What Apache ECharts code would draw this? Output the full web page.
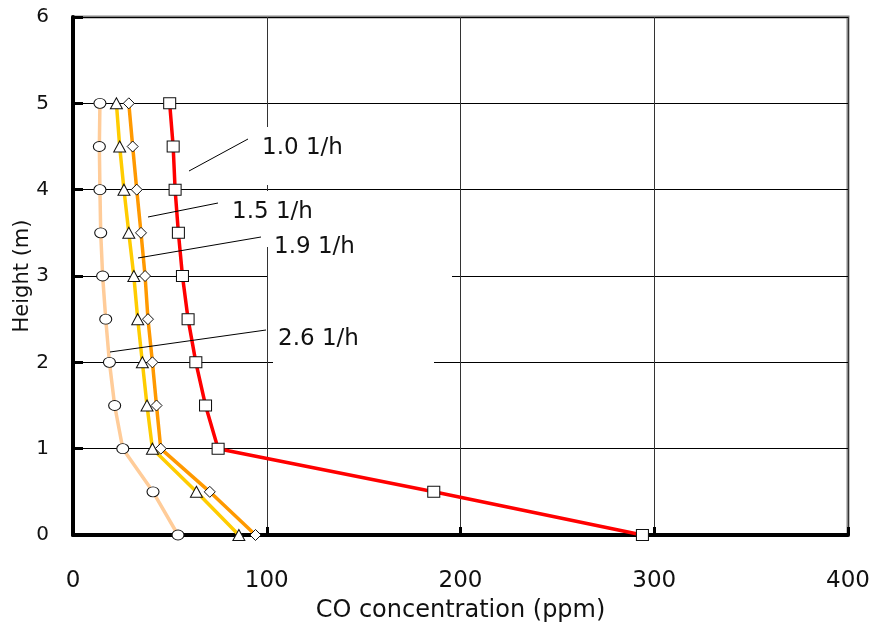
<!DOCTYPE html>
<html>
<head>
<meta charset="utf-8">
<script src="https://cdn.jsdelivr.net/npm/echarts@6/dist/echarts.min.js"></script>
<style>
  html, body { margin: 0; padding: 0; background: #fff; }
  #chart { width: 874px; height: 623px; }
</style>
</head>
<body>
<div id="chart"></div>
<script>
// measured heights (m)
const heights = [0, 0.5, 1, 1.5, 2, 2.5, 3, 3.5, 4, 4.5, 5];

// CO concentration (ppm) for each air change rate
const rateNames = ['1.0 1/h', '1.5 1/h', '1.9 1/h', '2.6 1/h'];
const co10 = [293.9, 186.2, 74.9, 68.4, 63.4, 59.4, 56.5, 54.4, 52.7, 51.7, 49.9];
const co15 = [94.2, 70.6, 45.3, 43.1, 41.0, 38.7, 37.2, 35.1, 32.9, 30.8, 28.8];
const co19 = [85.6, 63.7, 41.0, 38.2, 35.8, 33.4, 31.4, 28.8, 26.3, 24.1, 22.4];
const co26 = [54.2, 41.3, 25.7, 21.5, 18.8, 16.9, 15.3, 14.3, 13.9, 13.6, 13.9];

const xTicks = [0, 100, 200, 300, 400];
const yTicks = [0, 1, 2, 3, 4, 5, 6];

const FONT = 'DejaVu Sans';

const chart = echarts.init(document.getElementById('chart'));

function pairs(values) {
  return values.map((v, i) => [v, heights[i]]);
}

function makeSeries(name, values, color, symbol, size) {
  return {
    name: name,
    type: 'line',
    data: pairs(values),
    symbol: symbol,
    symbolSize: size,
    showAllSymbol: true,
    lineStyle: { color: color, width: 3.5 },
    itemStyle: { color: '#fff', borderColor: '#111', borderWidth: 1 },
    emphasis: { disabled: true },
    z: 3
  };
}

// label boxes (white fill hides the grid lines behind them)
const boxes = [
  { x: 255, y: 127, w: 110, h: 58 },
  { x: 225, y: 191, w: 105, h: 56 },
  { x: 268, y: 229, w: 184, h: 60 },
  { x: 273, y: 318, w: 161, h: 54 }
];
const labelPos = [[262, 148], [232, 212], [274, 247], [278, 339]];
const leaders = [
  [189, 171, 248, 139],
  [148, 217, 218, 203],
  [138, 258, 261, 237],
  [110, 352, 266, 330]
];

const graphics = [];
boxes.forEach(b => {
  graphics.push({
    type: 'rect', z: 20, silent: true,
    shape: { x: b.x, y: b.y, width: b.w, height: b.h },
    style: { fill: '#fff' }
  });
});
leaders.forEach(l => {
  graphics.push({
    type: 'line', z: 22, silent: true,
    shape: { x1: l[0], y1: l[1], x2: l[2], y2: l[3] },
    style: { stroke: '#000', lineWidth: 1 }
  });
});
rateNames.forEach((name, i) => {
  graphics.push({
    type: 'text', z: 22, silent: true,
    x: labelPos[i][0], y: labelPos[i][1],
    style: {
      text: name, fill: '#111', font: '23px "' + FONT + '"',
      textAlign: 'left', textVerticalAlign: 'middle'
    }
  });
});

chart.setOption({
  animation: false,
  backgroundColor: '#fff',
  grid: {
    left: 73, top: 17, right: 26, bottom: 88,
    outerBoundsMode: 'none',
    show: true, borderColor: '#888', borderWidth: 3, backgroundColor: 'transparent'
  },
  xAxis: {
    type: 'value',
    min: xTicks[0], max: xTicks[xTicks.length - 1], interval: 100,
    name: 'CO concentration (ppm)',
    nameLocation: 'middle', nameGap: 64, nameMoveOverlap: false,
    nameTextStyle: { fontFamily: FONT, fontSize: 24, color: '#111' },
    axisLine: { show: true, lineStyle: { color: '#000', width: 4 } },
    axisTick: { show: true, inside: true, length: 8, lineStyle: { color: '#000', width: 3 } },
    axisLabel: { fontFamily: FONT, fontSize: 23, color: '#111', margin: 35 },
    splitLine: { show: true, lineStyle: { color: '#333', width: 1 } }
  },
  yAxis: {
    type: 'value',
    min: yTicks[0], max: yTicks[yTicks.length - 1], interval: 1,
    name: 'Height (m)',
    nameLocation: 'middle', nameGap: 40, nameMoveOverlap: false,
    nameTextStyle: { fontFamily: FONT, fontSize: 21, color: '#111' },
    axisLine: { show: true, lineStyle: { color: '#000', width: 4 } },
    axisTick: { show: true, inside: true, length: 10, lineStyle: { color: '#000', width: 3 } },
    axisLabel: { fontFamily: FONT, fontSize: 20, color: '#111', margin: 24 },
    splitLine: { show: true, lineStyle: { color: '#000', width: 1 } }
  },
  series: [
    makeSeries(rateNames[0], co10, '#ff0000', 'rect', [12, 11]),
    makeSeries(rateNames[1], co15, '#ff9900', 'diamond', [11, 11]),
    makeSeries(rateNames[2], co19, '#ffcc00', 'triangle', [12, 11]),
    makeSeries(rateNames[3], co26, '#ffcc99', 'circle', [12, 10])
  ],
  graphic: graphics
});
</script>
</body>
</html>
